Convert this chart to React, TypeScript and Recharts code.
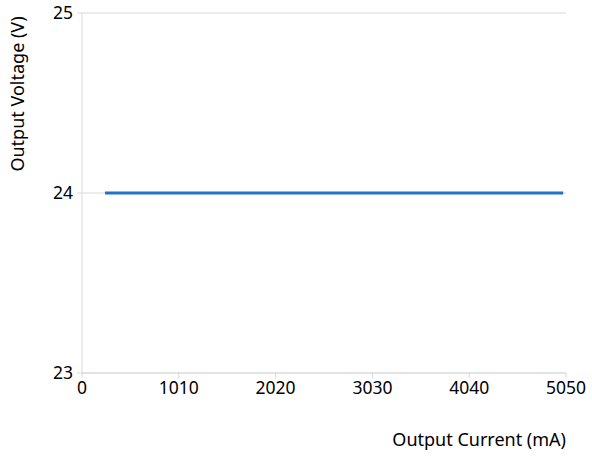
import { LineChart, Line, XAxis, YAxis, CartesianGrid, Label } from "recharts";

const currents = [240, 1000, 2000, 3000, 4000, 5020];
const voltages = [24, 24, 24, 24, 24, 24];
const xTicks = [0, 1010, 2020, 3030, 4040, 5050];
const yTicks = [23, 24, 25];

const data = currents.map((c, i) => ({ current: c, voltage: voltages[i] }));

const font = "'Noto Sans', 'Open Sans', sans-serif";
const axisColor = "#d9d9d9";

export default function App() {
  return (
    <div style={{ position: "absolute", left: 0, top: 0, width: 592, height: 457, background: "#fff" }}>
      <LineChart width={592} height={457} data={data} margin={{ top: 13, right: 26, bottom: 0, left: 0 }}>
        <CartesianGrid vertical={false} stroke={axisColor} />
        <XAxis
          dataKey="current"
          type="number"
          domain={[0, 5050]}
          ticks={xTicks}
          height={84}
          stroke={axisColor}
          tickSize={5}
          tick={{ fill: "#000", fontSize: 17.5, fontFamily: font }}
          tickMargin={4}
        >
          <Label
            content={() => (
              <text x={566} y={446} textAnchor="end" fontSize={18} fontFamily={font} fill="#000">
                Output Current (mA)
              </text>
            )}
          />
        </XAxis>
        <YAxis
          type="number"
          domain={[23, 25]}
          ticks={yTicks}
          width={82}
          stroke={axisColor}
          tickSize={5}
          tick={{ fill: "#000", fontSize: 17.5, fontFamily: font }}
          tickMargin={4}
        >
          <Label
            content={() => (
              <text
                x={24}
                y={94}
                transform="rotate(-90 24 94)"
                textAnchor="middle"
                fontSize={18}
                fontFamily={font}
                fill="#000"
              >
                Output Voltage (V)
              </text>
            )}
          />
        </YAxis>
        <Line
          type="linear"
          dataKey="voltage"
          stroke="#1f72c6"
          strokeWidth={3}
          dot={false}
          isAnimationActive={false}
        />
      </LineChart>
    </div>
  );
}
